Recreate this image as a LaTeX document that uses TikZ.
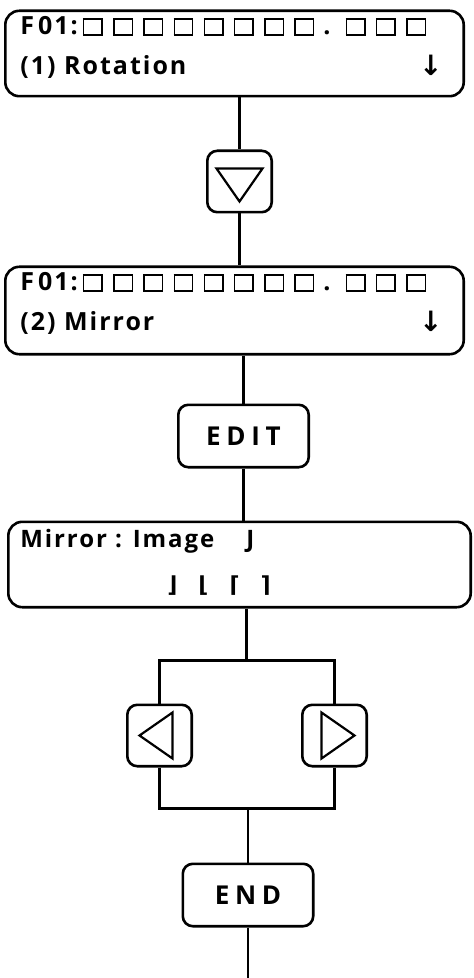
\documentclass[tikz,border=0pt]{standalone}
\usepackage{fontspec}
\setmainfont{Open Sans}
\newfontfamily\dispfont[LetterSpace=8]{Open Sans}
\newfontfamily\keyfont[LetterSpace=22]{Open Sans}
\newfontfamily\cornerfont{DejaVu Sans}
\usetikzlibrary{positioning}

% one cell of the LCD line
\newcommand{\cellbox}{{\setlength{\fboxsep}{0pt}\setlength{\fboxrule}{0.7pt}%
  \fbox{\rule{0pt}{7.3pt}\hspace{8.5pt}}}}
\newcommand{\cellrow}[1]{\foreach \c in {1,...,#1}{\kern2.6pt\cellbox\kern2.6pt}}

\begin{document}
\begin{tikzpicture}[
        disp/.style={draw, rounded corners=7pt, line width=1.3pt, minimum width=229.2pt,
            minimum height=42.7pt},
        txt/.style={inner sep=0pt, font=\dispfont\bfseries\fontsize{12.5}{15}\selectfont},
        key/.style={draw, rounded corners=5pt, line width=1.3pt, minimum width=32.2pt,
            minimum height=30.7pt},
        btn/.style={key, minimum width=65.2pt, minimum height=31.2pt,
            font=\keyfont\bfseries\fontsize{13}{15}\selectfont},
        tri/.style={line width=1.1pt, line join=miter},
        wire/.style={line width=1.2pt}
    ]
    \useasboundingbox (0,0) rectangle (236.5pt,-489pt);

    \node[disp] (disp1) at (117.25pt,-26.75pt) {};
    \node[key, below=26pt of disp1, xshift=2.5pt] (dkey) {};
    \node[disp, below=26pt of dkey, xshift=-2.5pt, minimum height=43.7pt] (disp2) {};
    \node[btn, below=24pt of disp2, xshift=4.5pt] (edit) {EDIT};
    \node[disp, below=26pt of edit, xshift=-2pt, minimum width=231.2pt] (mirror) {};

    \coordinate[below=26pt of mirror, xshift=3.5pt] (fork);
    \node[key, below=21.5pt of fork, xshift=-43.5pt] (lkey) {};
    \node[key, below=21.5pt of fork, xshift=44pt]    (rkey) {};
    \path (fork |- lkey.south) ++(0,-20.5pt) coordinate (join);
    \node[btn, below=27pt of join, xshift=0.75pt] (endk) {END};
    \coordinate[below=25.5pt of endk] (tail);

    % display texts
    \foreach \d/\t in {disp1/{(1) Rotation}, disp2/{(2) Mirror}}{
        \node[txt, anchor=base west] (\d top) at ([xshift=8pt, yshift=-12.5pt]\d.north west)
            {F\kern2pt01:\cellrow{8}\kern2pt.\kern5pt\cellrow{3}};
        \node[txt, anchor=base west] (\d sub) at ([xshift=8pt, yshift=-32.5pt]\d.north west) {\t};
        \node[txt, anchor=base east, font=\cornerfont\bfseries\fontsize{14}{16}\selectfont]
            (\d arr) at ([xshift=-11pt, yshift=-33pt]\d.north east) {↓};
    }
    \node[txt, anchor=base west, font=\dispfont\bfseries\fontsize{12}{15}\selectfont] (mirrortop)
        at ([xshift=6.5pt, yshift=-13.5pt]mirror.north west) {Mirror : Image\hspace{16pt}J};
    \node[txt, anchor=base west, font=\cornerfont\bfseries\fontsize{11}{13}\selectfont] (mirrorsub)
        at ([xshift=80pt, yshift=-36pt]mirror.north west)
        {⌋\hspace{10.5pt}⌊\hspace{10.5pt}⌈\hspace{10.5pt}⌉};

    % key symbols
    \foreach \k/\a in {dkey/-90, lkey/180, rkey/0}
        {\draw[tri, shift={(\k.center)}, rotate=\a] (10pt,0) -- (-6.5pt,11.5pt) -- (-6.5pt,-11.5pt) -- cycle;}

    \draw[wire] (disp1.south -| dkey.north) -- (dkey.north);
    \draw[wire] (dkey.south) -- (dkey.south |- disp2.north);
    \draw[wire] (disp2.south -| edit.north) -- (edit.north);
    \draw[wire] (edit.south) -- (edit.south |- mirror.north);
    \draw[wire] (mirror.south -| fork) -- (fork);
    \draw[wire] (lkey.north) |- (fork) -| (rkey.north);
    \draw[wire] (lkey.south) |- (join) -| (rkey.south);
    \draw[wire] (join -| endk.north) -- (endk.north);
    \draw[wire] (endk.south) -- (tail);
\end{tikzpicture}
\end{document}
